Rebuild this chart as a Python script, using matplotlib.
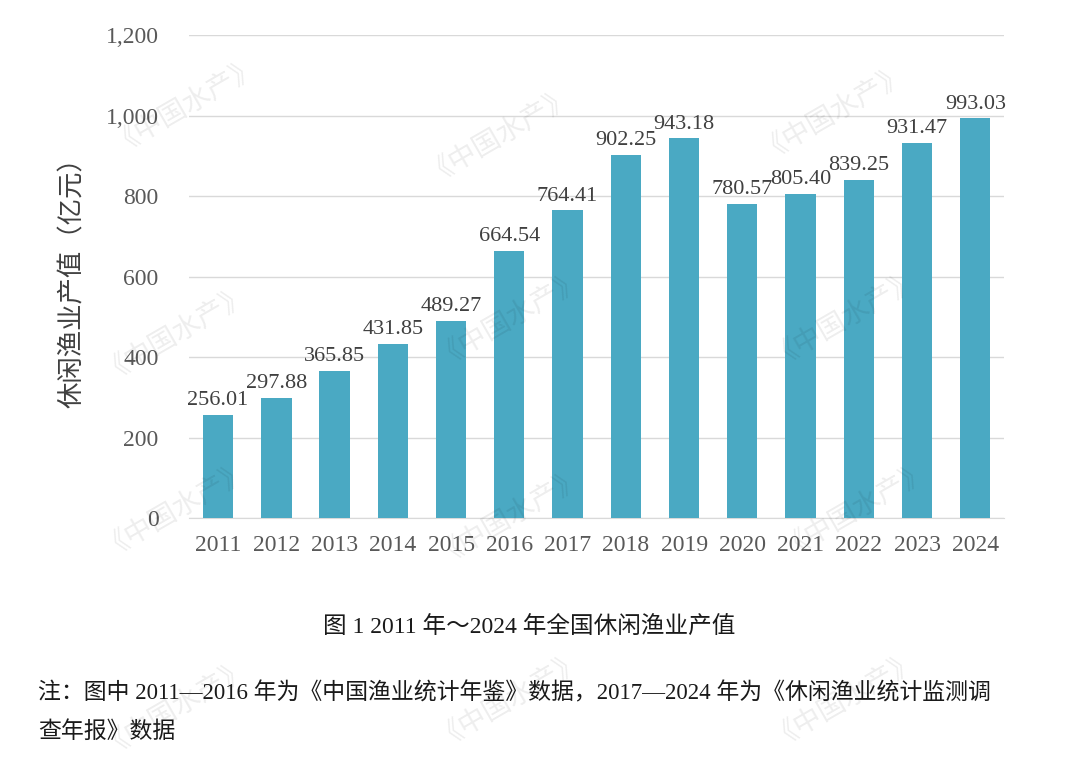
import matplotlib.pyplot as plt

years = ["2011", "2012", "2013", "2014", "2015", "2016", "2017",
         "2018", "2019", "2020", "2021", "2022", "2023", "2024"]
values = [256.01, 297.88, 365.85, 431.85, 489.27, 664.54, 764.41,
          902.25, 943.18, 780.57, 805.40, 839.25, 931.47, 993.03]

fam = ['Liberation Serif', 'Noto Sans CJK SC']
plt.rcParams['font.family'] = fam

fig = plt.figure(figsize=(10.8, 7.62), dpi=100)
ax = fig.add_axes([0.175, 0.320, 0.755, 0.634])

x = range(len(years))
ax.bar(x, values, width=0.52, color='#4aa9c3', zorder=3)
for i, v in zip(x, values):
    ax.text(i, v + 12, f"{v:.2f}", ha='center', va='bottom', fontsize=16, color='#404040')

ax.set_ylim(0, 1200)
ax.set_xlim(-0.5, len(years) - 0.5)
ax.set_yticks(range(0, 1201, 200))
ax.set_yticklabels([f"{t:,}" for t in range(0, 1201, 200)])
ax.set_xticks(list(x))
ax.set_xticklabels(years)
ax.tick_params(axis='both', length=0, labelsize=17, labelcolor='#595959')
ax.tick_params(axis='x', pad=12)
ax.tick_params(axis='y', pad=22)
ax.grid(axis='y', color='#d9d9d9', linewidth=1, zorder=0)
for s in ['top', 'right', 'left']:
    ax.spines[s].set_visible(False)
ax.spines['bottom'].set_color('#d9d9d9')
ax.set_ylabel("休闲渔业产值（亿元）", fontsize=19, color='#404040',
              family='Noto Sans CJK SC', labelpad=14)

# watermarks
for wx, wy in [(0.17, 0.87), (0.46, 0.83), (0.77, 0.86), (0.16, 0.57), (0.47, 0.59),
               (0.78, 0.59), (0.16, 0.34), (0.47, 0.33), (0.79, 0.34),
               (0.16, 0.08), (0.47, 0.09), (0.78, 0.09)]:
    fig.text(wx, wy, "《中国水产》", fontsize=20, color='#000000', alpha=0.07,
             rotation=30, ha='center', va='center', family='Noto Sans CJK SC')

fig.text(0.49, 0.177, "图 1 2011 年～2024 年全国休闲渔业产值", fontsize=17,
         ha='center', va='center', color='#1a1a1a')
fig.text(0.035, 0.09, "注：图中 2011—2016 年为《中国渔业统计年鉴》数据，2017—2024 年为《休闲渔业统计监测调",
         fontsize=16.5, ha='left', va='center', color='#1a1a1a')
fig.text(0.035, 0.039, "查年报》数据", fontsize=16.5, ha='left', va='center', color='#1a1a1a')

fig.savefig("out.png", dpi=100)
